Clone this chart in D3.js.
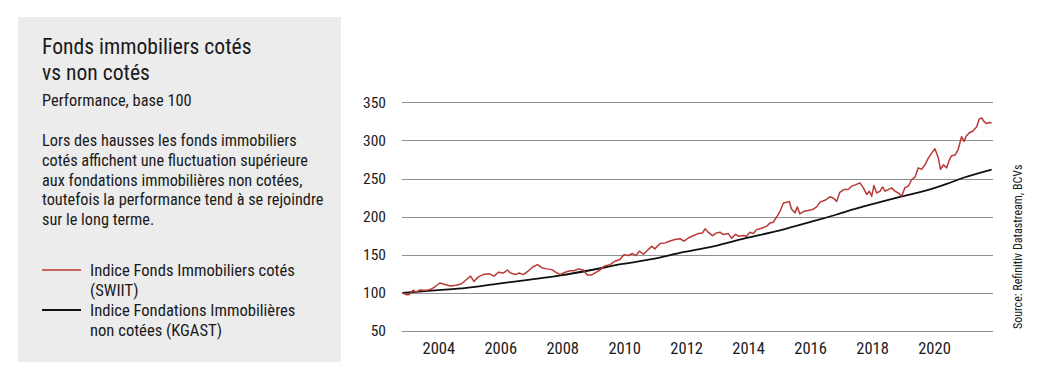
<!DOCTYPE html>
<html>
<head>
<meta charset="utf-8">
<script src="https://cdn.jsdelivr.net/npm/d3@7"></script>
<style>
  html, body { margin: 0; padding: 0; background: #ffffff; }
  svg { display: block; }
  text { font-family: "Liberation Sans Narrow", "Arial Narrow", "Roboto Condensed", sans-serif; fill: #1a1a1a; }
</style>
</head>
<body>
<svg id="chart" width="1039" height="377"></svg>
<script>
// ---- Data ----
const titleLines = ["Fonds immobiliers cotés", "vs non cotés"];
const subtitle = "Performance, base 100";
const bodyLines = [
  "Lors des hausses les fonds immobiliers",
  "cotés affichent une fluctuation supérieure",
  "aux fondations immobilières non cotées,",
  "toutefois la performance tend à se rejoindre",
  "sur le long terme."
];
const legendLabels = [
  ["Indice Fonds Immobiliers cotés", "(SWIIT)"],
  ["Indice Fondations Immobilières", "non cotées (KGAST)"]
];
const sourceText = "Source: Refinitiv Datastream, BCVs";

const yTicks = [50, 100, 150, 200, 250, 300, 350];
const xTicks = [2004, 2006, 2008, 2010, 2012, 2014, 2016, 2018, 2020];

// SWIIT (listed funds) – decimal year / index value
const swiitYears = [
  2002.84, 2002.98, 2003.06, 2003.19, 2003.28, 2003.41, 2003.49, 2003.64, 2003.78, 2003.92,
  2004.05, 2004.22, 2004.38, 2004.57, 2004.75, 2004.91, 2005.04, 2005.15, 2005.29, 2005.45,
  2005.65, 2005.80, 2005.94, 2006.10, 2006.23, 2006.33, 2006.49, 2006.61, 2006.74, 2006.91,
  2007.05, 2007.20, 2007.34, 2007.50, 2007.66, 2007.80, 2007.93, 2008.09, 2008.25, 2008.38,
  2008.52, 2008.68, 2008.81, 2008.95, 2009.09, 2009.22, 2009.35, 2009.54, 2009.70, 2009.86,
  2009.99, 2010.13, 2010.27, 2010.38, 2010.49, 2010.62, 2010.78, 2010.89, 2010.99, 2011.16,
  2011.32, 2011.48, 2011.64, 2011.80, 2011.93, 2012.07, 2012.23, 2012.39, 2012.53, 2012.61,
  2012.71, 2012.85, 2012.98, 2013.09, 2013.20, 2013.36, 2013.47, 2013.58, 2013.72, 2013.84,
  2013.95, 2014.06, 2014.17, 2014.27, 2014.44, 2014.60, 2014.71, 2014.81, 2014.94, 2015.03,
  2015.14, 2015.24, 2015.33, 2015.40, 2015.51, 2015.59, 2015.67, 2015.80, 2015.94, 2016.08,
  2016.21, 2016.32, 2016.48, 2016.64, 2016.75, 2016.86, 2016.96, 2017.09, 2017.23, 2017.34,
  2017.48, 2017.61, 2017.72, 2017.83, 2017.91, 2017.99, 2018.06, 2018.15, 2018.26, 2018.34,
  2018.42, 2018.52, 2018.63, 2018.74, 2018.85, 2018.96, 2019.06, 2019.17, 2019.28, 2019.39,
  2019.49, 2019.60, 2019.71, 2019.82, 2019.92, 2020.03, 2020.14, 2020.21, 2020.30, 2020.41,
  2020.49, 2020.57, 2020.68, 2020.78, 2020.89, 2020.97, 2021.03, 2021.14, 2021.25, 2021.38,
  2021.46, 2021.54, 2021.61, 2021.70, 2021.78, 2021.86
];
const swiitValues = [
  100, 97.5, 98, 103.5, 101, 104, 103.5, 103.5, 105, 109,
  113, 111, 109, 110, 112, 117.5, 122, 115, 121, 124,
  125, 122, 127, 126, 130, 126, 124, 126, 124, 129,
  134, 137, 133, 131.5, 130.5, 127, 124, 127, 129, 129,
  131.5, 130, 123.5, 123.5, 127, 130, 135, 137, 141.5, 143.7,
  150, 149, 151.6, 149, 154.7, 150.7, 157, 161, 157.7, 164.7,
  165.6, 168, 170, 171, 167.8, 172, 175, 177.8, 178.7, 184,
  179.6, 175, 178.7, 179.6, 176.5, 177.8, 171.7, 176.5, 174.3, 175.2,
  174.3, 179.6, 177.8, 183, 184.8, 187.5, 191.8, 192.7, 200.6, 207,
  218, 219, 220, 210, 205, 212.8, 203.6, 207, 208, 209.3,
  212.8, 219, 221.5, 226, 224.5, 220, 232, 235.5, 235.5, 240,
  242, 244.3, 237.7, 229, 233.4, 226.8, 240.8, 231, 233.4, 239,
  233.4, 235.5, 237.7, 233.4, 231, 227, 238, 240, 248.7, 252,
  264, 262, 268, 277, 283, 289, 277, 262, 268, 264,
  274, 280, 281, 288, 305, 298.7, 305, 310, 312, 318,
  328, 329.6, 325, 322, 323.5, 323
];

// KGAST (non-listed foundations)
const kgastYears = [
  2002.84, 2004.0, 2004.91, 2005.95, 2006.96, 2007.95, 2008.9, 2009.95, 2010.94, 2011.8,
  2012.88, 2013.95, 2015.03, 2016.1, 2016.86, 2017.18, 2018.25, 2018.9, 2019.76, 2020.41,
  2020.95, 2021.86
];
const kgastValues = [
  100, 103.5, 106.6, 112.2, 117.5, 123, 129.7, 138, 144.6, 152.5,
  161, 172, 182, 194, 202.8, 207, 219, 226, 234.5, 243,
  251, 261.8
];

const colors = { swiit: "#b83836", kgast: "#111111", grid: "#8f8f8f", panel: "#ececec" };

// ---- Drawing ----
const svg = d3.select("#chart");

// Left panel
svg.append("rect").attr("x", 18).attr("y", 17).attr("width", 323).attr("height", 345)
  .attr("fill", colors.panel);

const tx = 42;
svg.selectAll("text.title").data(titleLines).join("text")
  .attr("class", "title").attr("x", tx).attr("y", (d, i) => 54 + i * 25.5)
  .attr("font-size", 21.6).text(d => d);

svg.append("text").attr("x", tx).attr("y", 106).attr("font-size", 16.4).text(subtitle);

svg.selectAll("text.body").data(bodyLines).join("text")
  .attr("class", "body").attr("x", tx).attr("y", (d, i) => 145.7 + i * 19.9)
  .attr("font-size", 16.3).text(d => d);

const legendY = [270, 310];
const legendColors = [colors.swiit, colors.kgast];
legendLabels.forEach((lines, i) => {
  svg.append("line").attr("x1", 42).attr("x2", 81).attr("y1", legendY[i]).attr("y2", legendY[i])
    .attr("stroke", legendColors[i]).attr("stroke-width", i === 0 ? 1.6 : 2);
  lines.forEach((t, j) => {
    svg.append("text").attr("x", 90).attr("y", legendY[i] + 5.5 + j * 20)
      .attr("font-size", 16.6).text(t);
  });
});

// Chart scales
const x = d3.scaleLinear().domain([2004, 2020]).range([438.3, 934]);
const y = d3.scaleLinear().domain([50, 350]).range([331, 102.3]);
const gridX0 = 402, gridX1 = 993;

// Gridlines
svg.append("g").selectAll("line").data(yTicks).join("line")
  .attr("x1", gridX0).attr("x2", gridX1)
  .attr("y1", d => Math.round(y(d)) + 0.5).attr("y2", d => Math.round(y(d)) + 0.5)
  .attr("stroke", colors.grid).attr("stroke-width", 1);

// Y axis labels
const yAxis = d3.axisLeft(y).tickValues(yTicks).tickSize(0).tickPadding(0).tickFormat(d3.format("d"));
const gy = svg.append("g").attr("transform", "translate(386,0)").call(yAxis);
gy.select(".domain").remove();
gy.selectAll("text").attr("font-size", 15.5).attr("font-family", null).attr("fill", "#1a1a1a");

// X axis labels
const xAxis = d3.axisBottom(x).tickValues(xTicks).tickSize(0).tickPadding(0).tickFormat(d3.format("d"));
const gx = svg.append("g").attr("transform", "translate(0,342)").call(xAxis);
gx.select(".domain").remove();
gx.selectAll("text").attr("font-size", 16.5).attr("font-family", null).attr("fill", "#1a1a1a");

// Lines
const kgast = kgastYears.map((yr, i) => [yr, kgastValues[i]]);
const swiit = swiitYears.map((yr, i) => [yr, swiitValues[i]]);

svg.append("path").datum(kgast)
  .attr("d", d3.line().x(d => x(d[0])).y(d => y(d[1])).curve(d3.curveMonotoneX))
  .attr("fill", "none").attr("stroke", colors.kgast).attr("stroke-width", 1.8);
svg.append("path").datum(swiit).attr("d", d3.line().x(d => x(d[0])).y(d => y(d[1])))
  .attr("fill", "none").attr("stroke", colors.swiit).attr("stroke-width", 1.5)
  .attr("stroke-linejoin", "round");

// Source (rotated)
svg.append("text").attr("transform", "translate(1022,329) rotate(-90)")
  .attr("font-size", 12).attr("text-anchor", "start").text(sourceText);
</script>
</body>
</html>
